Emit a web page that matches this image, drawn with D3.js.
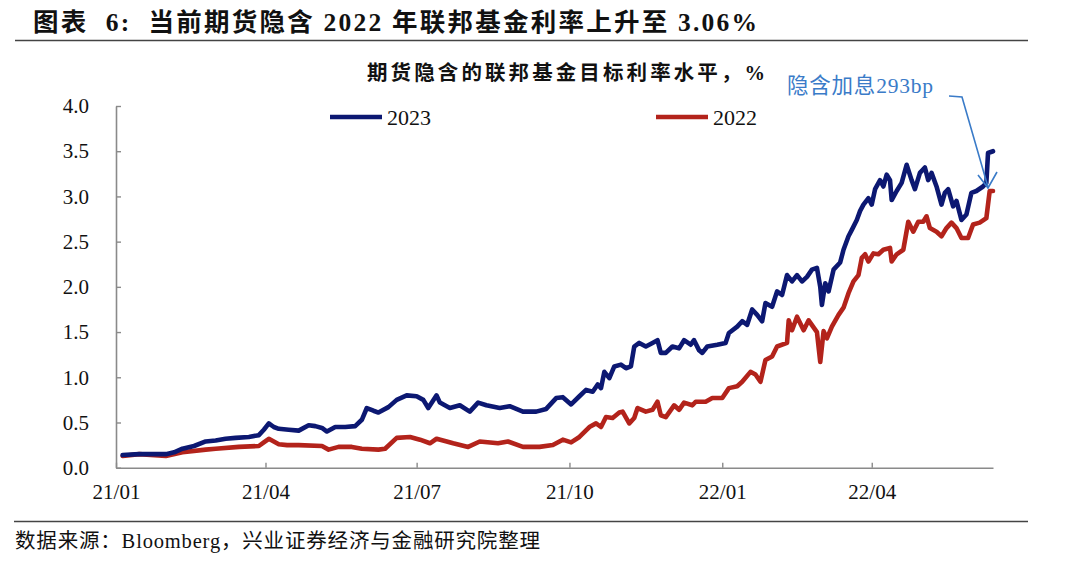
<!DOCTYPE html>
<html><head><meta charset="utf-8">
<script src="https://cdn.jsdelivr.net/npm/d3@7/dist/d3.min.js"></script>
<style>
body{margin:0;background:#fff;}
svg{display:block;}
text{font-family:"Liberation Serif","Noto Sans CJK SC",serif;}
</style></head>
<body><svg id="c" width="1080" height="584"></svg>
<script>
const dates2023 = ["2021-01-05","2021-01-15","2021-01-31","2021-02-05","2021-02-10","2021-02-17","2021-02-24","2021-03-02","2021-03-08","2021-03-14","2021-03-22","2021-03-28","2021-03-31","2021-04-03","2021-04-06","2021-04-09","2021-04-15","2021-04-21","2021-04-27","2021-05-01","2021-05-05","2021-05-08","2021-05-13","2021-05-19","2021-05-25","2021-05-29","2021-06-01","2021-06-05","2021-06-08","2021-06-14","2021-06-19","2021-06-25","2021-07-01","2021-07-05","2021-07-08","2021-07-13","2021-07-15","2021-07-21","2021-07-27","2021-08-02","2021-08-07","2021-08-12","2021-08-20","2021-08-26","2021-09-03","2021-09-11","2021-09-17","2021-09-23","2021-09-27","2021-10-02","2021-10-07","2021-10-11","2021-10-15","2021-10-18","2021-10-20","2021-10-22","2021-10-25","2021-10-28","2021-11-01","2021-11-04","2021-11-07","2021-11-09","2021-11-12","2021-11-16","2021-11-20","2021-11-23","2021-11-25","2021-11-28","2021-12-02","2021-12-06","2021-12-09","2021-12-13","2021-12-15","2021-12-18","2021-12-20","2021-12-23","2021-12-29","2022-01-03","2022-01-05","2022-01-10","2022-01-13","2022-01-16","2022-01-19","2022-01-22","2022-01-25","2022-01-27","2022-01-31","2022-02-03","2022-02-06","2022-02-09","2022-02-12","2022-02-15","2022-02-18","2022-02-21","2022-02-24","2022-02-27","2022-03-01","2022-03-02","2022-03-04","2022-03-06","2022-03-09","2022-03-13","2022-03-15","2022-03-18","2022-03-20","2022-03-23","2022-03-25","2022-03-27","2022-03-30","2022-04-01","2022-04-03","2022-04-06","2022-04-08","2022-04-10","2022-04-12","2022-04-13","2022-04-16","2022-04-19","2022-04-22","2022-04-25","2022-04-27","2022-04-30","2022-05-03","2022-05-05","2022-05-07","2022-05-10","2022-05-13","2022-05-15","2022-05-17","2022-05-20","2022-05-22","2022-05-25","2022-05-28","2022-05-31","2022-06-03","2022-06-07","2022-06-09","2022-06-10","2022-06-13"];
const values2023 = [0.14,0.15,0.15,0.17,0.21,0.24,0.29,0.30,0.32,0.33,0.34,0.36,0.42,0.49,0.45,0.43,0.42,0.41,0.47,0.46,0.44,0.40,0.45,0.45,0.46,0.53,0.66,0.63,0.61,0.67,0.75,0.80,0.79,0.75,0.66,0.80,0.72,0.66,0.69,0.62,0.72,0.69,0.66,0.68,0.62,0.62,0.65,0.77,0.78,0.70,0.79,0.86,0.84,0.92,0.88,1.06,0.99,1.12,1.14,1.10,1.12,1.34,1.38,1.34,1.38,1.41,1.27,1.27,1.34,1.32,1.41,1.36,1.41,1.30,1.27,1.34,1.36,1.38,1.49,1.56,1.62,1.58,1.75,1.69,1.62,1.82,1.78,1.95,1.91,2.13,2.06,2.13,2.06,2.11,2.19,2.21,2.00,1.80,2.04,1.95,2.19,2.27,2.41,2.56,2.63,2.74,2.84,2.91,2.98,2.91,3.08,3.18,3.11,3.24,3.18,2.96,3.06,3.15,3.35,3.18,3.08,3.26,3.32,3.18,3.26,3.11,2.91,3.04,3.08,2.89,2.95,2.74,2.80,3.04,3.06,3.11,3.15,3.48,3.50];

const dates2022 = ["2021-01-05","2021-01-15","2021-01-31","2021-02-10","2021-02-24","2021-03-02","2021-03-16","2021-03-28","2021-03-31","2021-04-03","2021-04-09","2021-04-14","2021-04-21","2021-05-05","2021-05-09","2021-05-15","2021-05-23","2021-05-29","2021-06-08","2021-06-12","2021-06-19","2021-06-27","2021-07-03","2021-07-09","2021-07-13","2021-07-23","2021-08-01","2021-08-08","2021-08-19","2021-08-25","2021-09-03","2021-09-13","2021-09-21","2021-09-27","2021-10-02","2021-10-07","2021-10-13","2021-10-17","2021-10-20","2021-10-23","2021-10-27","2021-10-31","2021-11-02","2021-11-06","2021-11-09","2021-11-11","2021-11-16","2021-11-20","2021-11-23","2021-11-25","2021-11-28","2021-12-03","2021-12-06","2021-12-09","2021-12-14","2021-12-16","2021-12-22","2021-12-26","2022-01-01","2022-01-05","2022-01-10","2022-01-13","2022-01-18","2022-01-21","2022-01-24","2022-01-27","2022-01-31","2022-02-03","2022-02-09","2022-02-10","2022-02-12","2022-02-15","2022-02-19","2022-02-22","2022-02-27","2022-03-01","2022-03-03","2022-03-05","2022-03-08","2022-03-12","2022-03-15","2022-03-18","2022-03-21","2022-03-24","2022-03-26","2022-03-28","2022-03-30","2022-04-02","2022-04-05","2022-04-08","2022-04-12","2022-04-13","2022-04-16","2022-04-20","2022-04-23","2022-04-26","2022-04-29","2022-05-02","2022-05-04","2022-05-06","2022-05-10","2022-05-13","2022-05-16","2022-05-19","2022-05-22","2022-05-25","2022-05-29","2022-06-01","2022-06-05","2022-06-09","2022-06-11","2022-06-13"];
const values2022 = [0.13,0.15,0.13,0.17,0.20,0.21,0.23,0.24,0.28,0.32,0.26,0.25,0.25,0.24,0.20,0.23,0.23,0.21,0.20,0.21,0.33,0.34,0.31,0.27,0.32,0.27,0.23,0.29,0.27,0.29,0.23,0.23,0.25,0.31,0.28,0.34,0.45,0.49,0.45,0.56,0.55,0.61,0.62,0.49,0.55,0.66,0.62,0.64,0.73,0.58,0.56,0.69,0.64,0.72,0.69,0.73,0.73,0.77,0.77,0.88,0.90,0.95,1.06,1.03,0.95,1.19,1.23,1.34,1.38,1.63,1.52,1.67,1.52,1.63,1.50,1.17,1.51,1.43,1.56,1.69,1.77,1.93,2.06,2.13,2.32,2.36,2.28,2.37,2.36,2.41,2.43,2.28,2.36,2.41,2.72,2.61,2.72,2.72,2.78,2.65,2.61,2.56,2.65,2.71,2.65,2.54,2.54,2.69,2.71,2.76,3.06,3.06];

const xTickDates = ["2021-01-01","2021-04-01","2021-07-01","2021-10-01","2022-01-01","2022-04-01"];
const yTicks = [0,0.5,1,1.5,2,2.5,3,3.5,4];
const seriesNames = ["2023","2022"];

const parse = d3.timeParse("%Y-%m-%d");
const svg = d3.select("#c");
const BLUE = "#0c1872", RED = "#b3231b", AXIS = "#8a8a8a", ANN = "#3a7bc8";

const x = d3.scaleTime().domain([parse("2021-01-01"), parse("2022-06-13")]).range([116, 993]);
const y = d3.scaleLinear().domain([0, 4]).range([467.7, 106]);

// title
svg.append("text").attr("x", 33).attr("y", 31).attr("font-size", 25.5).attr("font-weight", "bold")
  .attr("fill", "#111").attr("textLength", 724).attr("lengthAdjust", "spacing")
  .style("white-space", "pre")
  .text("图表  6:  当前期货隐含 2022 年联邦基金利率上升至 3.06%");
svg.append("line").attr("x1", 15).attr("x2", 1028).attr("y1", 40.5).attr("y2", 40.5)
  .attr("stroke", "#444").attr("stroke-width", 1.6);

// subtitle
svg.append("text").attr("x", 367).attr("y", 80).attr("font-size", 20.5)
  .attr("textLength", 398).attr("lengthAdjust", "spacing")
  .attr("font-weight", "bold").attr("fill", "#111").text("期货隐含的联邦基金目标利率水平，%");

// axes
const xAxis = d3.axisBottom(x).tickValues(xTickDates.map(parse)).tickFormat(d3.timeFormat("%y/%m"))
  .tickSizeInner(-5).tickSizeOuter(0).tickPadding(16.5);
const gx = svg.append("g").attr("transform", "translate(0,467.7)").call(xAxis);
const yAxis = d3.axisLeft(y).tickValues(yTicks).tickFormat(d3.format(".1f"))
  .tickSizeInner(-5).tickSizeOuter(0).tickPadding(27);
const gy = svg.append("g").attr("transform", "translate(116,0)").call(yAxis);
[gx, gy].forEach(g => {
  g.select(".domain").attr("stroke", AXIS).attr("stroke-width", 1.6);
  g.selectAll(".tick line").attr("stroke", AXIS).attr("stroke-width", 1.4);
  g.selectAll(".tick text").attr("font-size", 21).attr("fill", "#111")
    .attr("font-family", "Liberation Serif, serif");
});

// lines
const line = d3.line().x(d => x(d[0])).y(d => y(d[1])).curve(d3.curveLinear);
const s2022 = dates2022.map((d, i) => [parse(d), values2022[i]]);
const s2023 = dates2023.map((d, i) => [parse(d), values2023[i]]);
svg.append("path").datum(s2022).attr("d", line).attr("fill", "none").attr("stroke", RED)
  .attr("stroke-width", 4.6).attr("stroke-linejoin", "round").attr("stroke-linecap", "round");
svg.append("path").datum(s2023).attr("d", line).attr("fill", "none").attr("stroke", BLUE)
  .attr("stroke-width", 4.6).attr("stroke-linejoin", "round").attr("stroke-linecap", "round");

// legend
const leg = [{name: seriesNames[0], c: BLUE, x: 330}, {name: seriesNames[1], c: RED, x: 656}];
leg.forEach(l => {
  svg.append("line").attr("x1", l.x).attr("x2", l.x + 52).attr("y1", 117).attr("y2", 117)
    .attr("stroke", l.c).attr("stroke-width", 4.6);
  svg.append("text").attr("x", l.x + 57).attr("y", 124.5).attr("font-size", 22).attr("fill", "#111").text(l.name);
});

// annotation
svg.append("text").attr("x", 787).attr("y", 93).attr("font-size", 21.5).attr("fill", ANN)
  .attr("textLength", 146).attr("lengthAdjust", "spacing").text("隐含加息293bp");
svg.append("polyline").attr("points", "949,96 962,97 988,187").attr("fill", "none")
  .attr("stroke", ANN).attr("stroke-width", 1.6);
svg.append("polyline").attr("points", "978,175 988,188 997,172").attr("fill", "none")
  .attr("stroke", ANN).attr("stroke-width", 1.6);

// source
svg.append("line").attr("x1", 14).attr("x2", 1028).attr("y1", 521.5).attr("y2", 521.5)
  .attr("stroke", "#444").attr("stroke-width", 1.4);
svg.append("text").attr("x", 15).attr("y", 548).attr("font-size", 20.5).attr("fill", "#111")
  .attr("textLength", 525).attr("lengthAdjust", "spacing")
  .text("数据来源：Bloomberg，兴业证券经济与金融研究院整理");
</script></body></html>
